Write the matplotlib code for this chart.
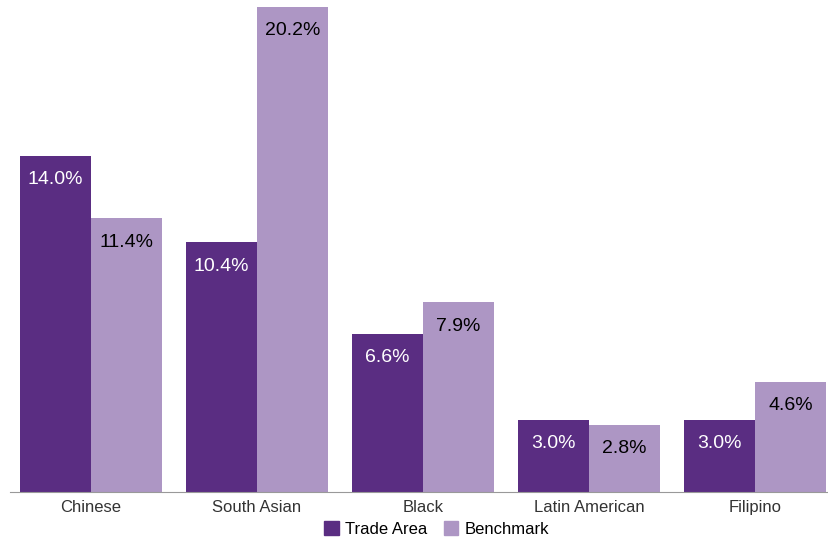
import numpy as np
import matplotlib.pyplot as plt
from matplotlib.patches import Patch

categories = ['Chinese', 'South Asian', 'Black', 'Latin American', 'Filipino']
trade_area = [14.0, 10.4, 6.6, 3.0, 3.0]
benchmark = [11.4, 20.2, 7.9, 2.8, 4.6]

dark = '#5a2d82'
light = '#ad96c4'

plt.rcParams['font.family'] = ['Liberation Sans', 'DejaVu Sans']

fig = plt.figure(figsize=(8.29, 5.40), dpi=100)
ax = fig.add_axes([10 / 829, 48 / 540, 818 / 829, 492 / 540])

x = np.arange(len(categories))
w = 0.428
b1 = ax.bar(x - w / 2, trade_area, w, color=dark)
b2 = ax.bar(x + w / 2, benchmark, w, color=light)

ax.set_xlim(-0.488, 4.44)
ax.set_ylim(0, 20.49)

# value labels inside the top of each bar
for bars, vals, col in [(b1, trade_area, 'white'), (b2, benchmark, 'black')]:
    for r, v in zip(bars, vals):
        ax.annotate(f'{v:.1f}%', (r.get_x() + r.get_width() / 2, v),
                    xytext=(0, -24), textcoords='offset pixels',
                    ha='center', va='center', fontsize=14, color=col)

for s in ['top', 'right', 'left']:
    ax.spines[s].set_visible(False)
ax.spines['bottom'].set_color('#999999')
ax.set_yticks([])
ax.set_xticks(x)
ax.set_xticklabels(categories, fontsize=12, color='#333333')
ax.tick_params(axis='x', length=0, pad=6)

handles = [Patch(color=dark, label='Trade Area'), Patch(color=light, label='Benchmark')]
fig.legend(handles=handles, loc='center', bbox_to_anchor=(437 / 829, 1 - 529 / 540),
           ncol=2, frameon=False, fontsize=12, handlelength=0.85, handleheight=0.85,
           handletextpad=0.4, columnspacing=1.0, borderpad=0)

fig.savefig('out.png', dpi=100)
